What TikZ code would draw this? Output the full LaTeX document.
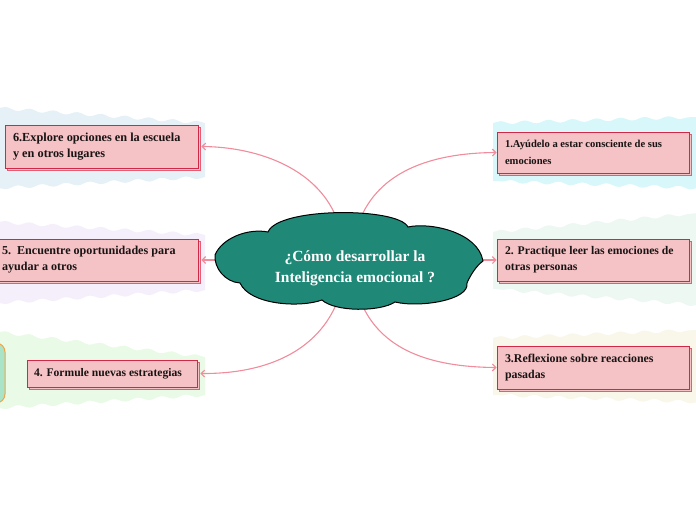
\documentclass[tikz,border=0pt]{standalone}
\usepackage{fontspec}
\setmainfont{Liberation Serif}
\usetikzlibrary{arrows.meta,shadows,decorations.pathmorphing}
\definecolor{cloudfill}{RGB}{31,136,119}
\definecolor{boxfill}{RGB}{245,194,197}
\definecolor{boxline}{RGB}{210,40,72}
\definecolor{shadline}{RGB}{222,96,116}
\definecolor{linkcol}{RGB}{240,140,155}
\definecolor{txt}{RGB}{25,20,20}
\definecolor{bgA}{RGB}{229,240,247}
\definecolor{bgB}{RGB}{216,247,251}
\definecolor{bgC}{RGB}{245,239,251}
\definecolor{bgD}{RGB}{238,248,243}
\definecolor{bgE}{RGB}{233,251,231}
\definecolor{bgF}{RGB}{249,246,234}
\definecolor{sidefill}{RGB}{170,228,200}
\definecolor{sideline}{RGB}{240,165,70}
\begin{document}
\begin{tikzpicture}[x=1pt,y=-1pt,
  idea/.style={draw=boxline, fill=boxfill, line width=0.9pt, rectangle, align=flush left,
    inner xsep=8pt, inner ysep=0pt, text=txt,
    general shadow={shadow xshift=2.5pt, shadow yshift=-2.5pt, fill=boxfill, draw=shadline, line width=0.9pt}},
  link/.style={draw=linkcol, line width=1.1pt, -{Straight Barb[length=3.5pt,width=7pt]}},
  wave/.style={decoration={snake, amplitude=1.6pt, segment length=24pt}},
  blob/.style={wave},
]
\useasboundingbox (0,0) rectangle (696,520);

% background bands
\fill[bgA, blob] (-2,108) decorate{-- (205,123)} -- (205,177) decorate{-- (-2,188)} -- cycle;
\fill[bgC, blob] (-2,222) decorate{-- (205,235)} -- (205,290) decorate{-- (-2,303)} -- cycle;
\fill[bgE, blob] (-2,332) decorate{-- (205,357)} -- (205,395) decorate{-- (-2,408)} -- cycle;
\fill[bgB, blob] (493,123) decorate{-- (698,117)} -- (698,188) decorate{-- (493,181)} -- cycle;
\fill[bgD, blob] (493,232) decorate{-- (698,213)} -- (698,305) decorate{-- (493,289)} -- cycle;
\fill[bgF, blob] (493,338) decorate{-- (698,330)} -- (698,402) decorate{-- (493,395)} -- cycle;

% side shape
\draw[fill=sidefill, draw=sideline, line width=1pt, rounded corners=9pt] (-20,343) rectangle (5,403);

% boxes
\node[idea, text width=177pt, minimum height=43pt, font=\bfseries\fontsize{12.3}{16}\selectfont] (b6) at (101.5,146.5)
  {6.Explore opciones en la escuela\\y en otros lugares};
\node[idea, text width=188pt, minimum height=42pt, font=\bfseries\fontsize{12.1}{16}\selectfont] (b5) at (96,260)
  {5.\ \ Encuentre oportunidades para\\ayudar a otros};
\node[idea, text width=156pt, inner xsep=7pt, minimum height=27pt, font=\bfseries\fontsize{11.6}{16}\selectfont] (b4) at (112,373.5)
  {4. Formule nuevas estrategias};
\node[idea, text width=176pt, minimum height=41pt, font=\bfseries\fontsize{10.6}{17}\selectfont] (b1) at (593,152.5)
  {1.Ayúdelo a estar consciente de sus\\emociones};
\node[idea, text width=176pt, minimum height=42pt, font=\bfseries\fontsize{11.7}{16}\selectfont] (b2) at (593,260)
  {2. Practique leer las emociones de\\otras personas};
\node[idea, text width=176pt, minimum height=43pt, font=\bfseries\fontsize{11.9}{16}\selectfont] (b3) at (593,367.5)
  {3.Reflexione sobre reacciones\\pasadas};

% connector origins inside the cloud
\coordinate (o6) at (338,222);
\coordinate (o1) at (359,222);
\coordinate (o5) at (225,260);
\coordinate (o2) at (475,260);
\coordinate (o4) at (338,300);
\coordinate (o3) at (360,300);

\draw[link] (o6) .. controls (320,170) and (260,147) .. ([xshift=3pt]b6.east);
\draw[link] (o1) .. controls (378,172) and (430,153) .. (b1.west);
\draw[link] (o5) -- ([xshift=3pt]b5.east);
\draw[link] (o2) -- (b2.west);
\draw[link] (o4) .. controls (318,352) and (265,374) .. ([xshift=3pt]b4.east);
\draw[link] (o3) .. controls (380,350) and (430,367) .. (b3.west);

% cloud
\draw[fill=cloudfill, draw=black, line width=1pt]
  (215,255) .. controls (222,238) and (248,228) .. (268,232)
  .. controls (278,207) and (398,207) .. (408,227)
  .. controls (430,222) and (478,232) .. (483,261)
  .. controls (476,266) and (470,276) .. (467,283)
  .. controls (470,300) and (420,308) .. (395,302)
  .. controls (380,312) and (335,312) .. (322,300)
  .. controls (300,308) and (250,305) .. (240,283)
  .. controls (225,282) and (214,268) .. (215,255) -- cycle;
\node[text=white, font=\bfseries\fontsize{15.5}{21}\selectfont, align=center] (title) at (355,268)
  {¿Cómo desarrollar la\\Inteligencia emocional ?};
\end{tikzpicture}
\end{document}
